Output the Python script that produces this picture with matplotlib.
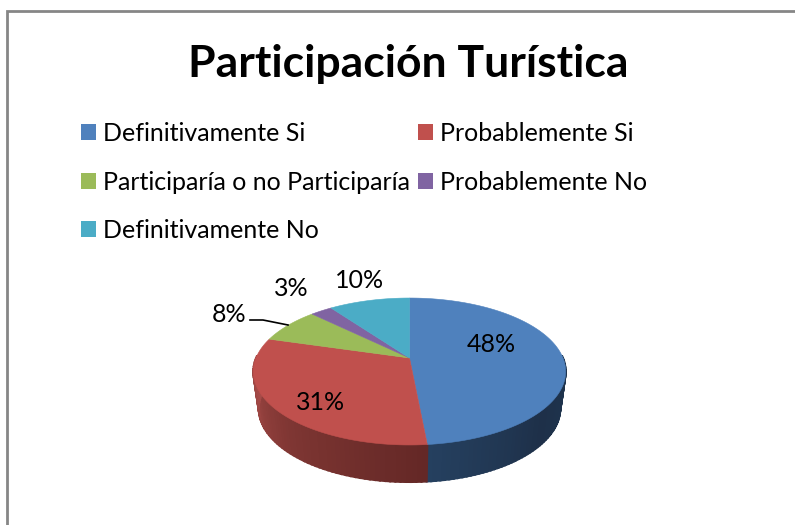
import numpy as np
import matplotlib
matplotlib.use("Agg")
import matplotlib.pyplot as plt
from matplotlib.colors import LinearSegmentedColormap
from matplotlib.patches import Patch

# Data
title = "Participación Turística"
categories = ["Definitivamente Si", "Probablemente Si", "Participaría o no Participaría",
              "Probablemente No", "Definitivamente No"]
shares = [48.49, 31.01, 7.8, 2.7, 10.0]
top_colors = ["#4F81BD", "#C0504D", "#9BBB59", "#8064A2", "#4BACC6"]
label_pos = [(491, 345), (321, 403), (229, 315), (291, 289), (360, 280)]

plt.rcParams["font.family"] = ["Lato", "DejaVu Sans"]

fig = plt.figure(figsize=(7.95, 5.25), dpi=100)
ax = fig.add_axes([0, 0, 1, 1])
ax.set_xlim(0, 795)
ax.set_ylim(525, 0)
ax.axis("off")

# Chart frame, cut off by the picture on the right and bottom
ax.plot([7, 7, 795], [525, 11, 11], color="#868686", linewidth=2, solid_joinstyle="miter")

# Perspective projection of the pie disc
cx, cy = 409.5, 358
a, b, d = 0.1837, 71.0, 153.5


def project(theta):
    u, v = np.sin(theta), np.cos(theta)
    w = 1 + a * v
    return cx + d * u / w, cy - b * v / w


def project_low(theta):
    x, y = project(theta)
    return cx + 0.965 * (x - cx), y + 37


# Side wall, drawn in thin strips for the shading
edges = np.radians(np.cumsum([0] + shares) * 3.6)
side_maps = [LinearSegmentedColormap.from_list("blue", ["#1F3650", "#1E3049", "#25405F"]),
             LinearSegmentedColormap.from_list("red", ["#642826", "#7F3633", "#A84C49"])]
for i in range(2):
    start = max(edges[i], np.radians(88))
    stop = min(edges[i + 1], np.radians(272))
    steps = np.linspace(start, stop, 60)
    for j in range(len(steps) - 1):
        t = steps[j:j + 2]
        x1, y1 = project(t)
        x2, y2 = project_low(t)
        c = side_maps[i](j / (len(steps) - 2))
        ax.fill(np.r_[x1, x2[::-1]], np.r_[y1, y2[::-1]], color=c, linewidth=1.5, zorder=2)

# Top face
for i in range(len(shares)):
    t = np.linspace(edges[i], edges[i + 1], 120)
    x, y = project(t)
    ax.fill(np.r_[cx, x], np.r_[cy, y], color=top_colors[i], linewidth=0.4, zorder=3)

# Value labels
for share, (lx, ly) in zip(shares, label_pos):
    ax.text(lx, ly, f"{share:.0f}%", fontsize=18, color="black",
            ha="center", va="center", zorder=5)

# Leader line of the 8% label
ax.plot([250, 263, 288], [320, 320, 325], color="black", linewidth=1.2, zorder=4)

ax.text(408, 64, title, fontsize=32, fontweight="bold", color="black", ha="center", va="center")

# Legend fills column by column
handles = [Patch(facecolor=c, edgecolor="none") for c in top_colors]
order = [0, 2, 4, 1, 3]
ax.legend([handles[i] for i in order], [categories[i] for i in order],
          ncols=2, loc="upper left", bbox_to_anchor=(81 / 795, 1 - 122 / 525),
          frameon=False, fontsize=18, handlelength=0.6, handleheight=0.6, handletextpad=0.28,
          columnspacing=0.32, labelspacing=1.02, borderpad=0, borderaxespad=0)

plt.savefig("out.png", dpi=100)
